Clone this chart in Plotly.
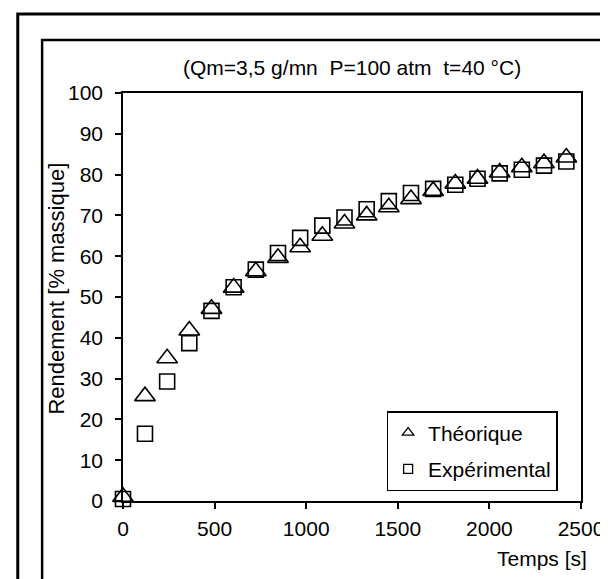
import plotly.graph_objects as go

# ---- data ----
temps = [0, 120, 241, 362, 483, 604, 725, 846, 967, 1088, 1209, 1330, 1451,
         1572, 1693, 1814, 1935, 2056, 2177, 2298, 2420]
theorique = [1.0, 25.7, 35.0, 41.8, 47.1, 52.3, 56.3, 59.6, 62.2, 65.0, 68.0,
             70.0, 72.0, 74.0, 76.0, 77.8, 79.0, 80.5, 81.8, 82.8, 84.2]
experimental = [0.5, 16.5, 29.3, 38.7, 46.6, 52.4, 56.7, 60.8, 64.5, 67.5, 69.5,
                71.5, 73.5, 75.5, 76.5, 77.5, 79.0, 80.3, 81.2, 82.2, 83.2]
x_ticks = [0, 500, 1000, 1500, 2000, 2500]
y_ticks = [0, 10, 20, 30, 40, 50, 60, 70, 80, 90, 100]

FONT = "Liberation Sans, Arial, sans-serif"
FS = 21

# plot-area geometry in pixels
W, H = 608, 579
L, R, T, B = 115, 585, 85, 493
pw, ph = R - L, B - T

def px(x):
    return (x - L) / pw

def py(y):
    return (B - y) / ph

fig = go.Figure()
fig.add_trace(go.Scatter(
    x=temps, y=experimental, mode="markers", name="Expérimental",
    showlegend=False, cliponaxis=False,
    marker=dict(symbol="square-open", size=15, color="black",
                line=dict(width=1.6, color="black"))))
fig.add_trace(go.Scatter(
    x=temps, y=theorique, mode="markers", name="Théorique",
    showlegend=False, cliponaxis=False,
    marker=dict(symbol="triangle-up-open", size=18, color="black",
                line=dict(width=1.6, color="black"))))
# legend entries (small symbols as in the reference)
fig.add_trace(go.Scatter(
    x=[None], y=[None], mode="markers", name="Théorique", legendgroup="a",
    marker=dict(symbol="triangle-up-open", size=10, color="black",
                line=dict(width=1.3, color="black"))))
fig.add_trace(go.Scatter(
    x=[None], y=[None], mode="markers", name="Expérimental", legendgroup="b",
    marker=dict(symbol="square-open", size=9, color="black",
                line=dict(width=1.3, color="black"))))

fig.update_layout(
    width=W, height=H,
    margin=dict(l=L, r=W - R, t=T, b=H - B, pad=0),
    paper_bgcolor="white", plot_bgcolor="white",
    font=dict(family=FONT, size=FS, color="black"),
    showlegend=True,
    legend=dict(x=px(561), y=py(483), xanchor="right", yanchor="bottom",
                bgcolor="white", bordercolor="black", borderwidth=1.5,
                font=dict(family=FONT, size=FS, color="black"),
                itemwidth=30, tracegroupgap=6),
    xaxis=dict(range=[0, 2500], tickvals=x_ticks, ticks="outside", ticklen=6,
               tickwidth=1.5, tickcolor="black", showline=True, linecolor="black",
               linewidth=1.5, mirror=True, showgrid=False, zeroline=False,
               ticklabelstandoff=2, ticklabeloverflow="allow",
               tickfont=dict(size=FS)),
    yaxis=dict(range=[0, 100], tickvals=y_ticks, ticks="outside", ticklen=6,
               tickwidth=1.5, tickcolor="black", showline=True, linecolor="black",
               linewidth=1.5, mirror=True, showgrid=False, zeroline=False,
               ticklabelstandoff=8, ticklabeloverflow="allow",
               tickfont=dict(size=FS)),
    annotations=[
        dict(text="(Qm=3,5 g/mn\u00a0\u00a0P=100 atm\u00a0\u00a0t=40 °C)",
             x=0.5, y=py(59), xref="paper", yref="paper", xanchor="center",
             yanchor="middle", showarrow=False, font=dict(size=FS)),
        dict(text="Temps [s]", x=px(593), y=py(550), xref="paper", yref="paper",
             xanchor="right", yanchor="middle", showarrow=False,
             font=dict(size=FS)),
        dict(text="Rendement [% massique]", x=px(47), y=0.52, xref="paper",
             yref="paper", xanchor="center", yanchor="middle", textangle=-90,
             showarrow=False, font=dict(size=22)),
    ],
    shapes=[
        dict(type="rect", xref="paper", yref="paper",
             x0=px(7), y0=py(640), x1=px(660), y1=py(6),
             line=dict(color="black", width=3), fillcolor="rgba(0,0,0,0)",
             layer="below"),
        dict(type="rect", xref="paper", yref="paper",
             x0=px(32), y0=py(640), x1=px(660), y1=py(32),
             line=dict(color="black", width=2.5), fillcolor="rgba(0,0,0,0)",
             layer="below"),
    ],
)

fig.write_html("out.html")
